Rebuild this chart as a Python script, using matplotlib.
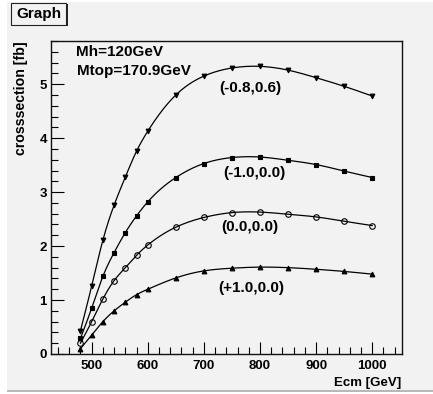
import numpy as np
import matplotlib
matplotlib.use("Agg")
import matplotlib.pyplot as plt
from matplotlib.patches import Rectangle
from matplotlib.ticker import MultipleLocator

plt.rcParams['font.family'] = ['Liberation Sans', 'DejaVu Sans']
plt.rcParams['font.weight'] = 'bold'

# Centre-of-mass energies [GeV]
ecm = [480, 500, 520, 540, 560, 580, 600, 650, 700, 750, 800, 850, 900, 950, 1000]

# Cross sections [fb] for each beam-polarisation setting
xs_m08_p06 = [0.43, 1.26, 2.11, 2.76, 3.28, 3.76, 4.13, 4.80, 5.15, 5.30, 5.33, 5.26, 5.12, 4.96, 4.78]
xs_m10_p00 = [0.29, 0.85, 1.44, 1.88, 2.25, 2.56, 2.82, 3.27, 3.53, 3.64, 3.65, 3.59, 3.51, 3.39, 3.27]
xs_00_00 = [0.20, 0.60, 1.02, 1.36, 1.60, 1.83, 2.02, 2.35, 2.53, 2.62, 2.63, 2.59, 2.54, 2.46, 2.38]
xs_p10_p00 = [0.10, 0.35, 0.60, 0.80, 0.96, 1.10, 1.20, 1.41, 1.54, 1.59, 1.61, 1.60, 1.57, 1.53, 1.48]

labels = ["(-0.8,0.6)", "(-1.0,0.0)", "(0.0,0.0)", "(+1.0,0.0)"]
label_pos = [(727, 4.92), (734, 3.35), (731, 2.36), (726, 1.23)]


def natural_spline(x, y, n=400):
    """Smooth curve through the points (natural cubic spline)."""
    x = np.asarray(x, float)
    y = np.asarray(y, float)
    m = len(x)
    h = np.diff(x)
    A = np.zeros((m, m))
    b = np.zeros(m)
    A[0, 0] = A[-1, -1] = 1.0
    for i in range(1, m - 1):
        A[i, i - 1] = h[i - 1]
        A[i, i] = 2 * (h[i - 1] + h[i])
        A[i, i + 1] = h[i]
        b[i] = 6 * ((y[i + 1] - y[i]) / h[i] - (y[i] - y[i - 1]) / h[i - 1])
    M = np.linalg.solve(A, b)
    xs = np.linspace(x[0], x[-1], n)
    idx = np.clip(np.searchsorted(x, xs) - 1, 0, m - 2)
    x0, x1 = x[idx], x[idx + 1]
    hh = x1 - x0
    t0, t1 = x1 - xs, xs - x0
    ys = (M[idx] * t0 ** 3 / (6 * hh) + M[idx + 1] * t1 ** 3 / (6 * hh)
          + (y[idx] / hh - M[idx] * hh / 6) * t0
          + (y[idx + 1] / hh - M[idx + 1] * hh / 6) * t1)
    return xs, ys


fig = plt.figure(figsize=(4.33, 3.94), dpi=100)
fig.patch.set_facecolor('white')

# canvas background
W, H = 433.0, 394.0
fig.patches.append(Rectangle((7 / W, 1 - 390 / H), 1 - 7 / W, 388 / H,
                             transform=fig.transFigure, facecolor='#f2f2f2',
                             edgecolor='none', zorder=-3))
fig.patches.append(Rectangle((7 / W, 1 - 392 / H), 1 - 7 / W, 2 / H,
                             transform=fig.transFigure, facecolor='#b8b8b8',
                             edgecolor='none', zorder=-3))

# title box with shadow
fig.patches.append(Rectangle((13 / W, 1 - 26 / H), 55 / W, 22 / H,
                             transform=fig.transFigure, facecolor='#222222',
                             edgecolor='none', zorder=-2))
fig.patches.append(Rectangle((11 / W, 1 - 24.5 / H), 55 / W, 21.5 / H,
                             transform=fig.transFigure, facecolor='#f2f2f2',
                             edgecolor='#222222', linewidth=0.8, zorder=-1))
fig.text(38.5 / W, 1 - 14 / H, "Graph", ha='center', va='center',
         fontsize=11, fontweight='bold', zorder=3)

ax = fig.add_axes([51 / W, 1 - 354 / H, (401.7 - 51) / W, (354 - 41) / H])
ax.set_zorder(5)
ax.set_facecolor('#f2f2f2')

series = [xs_m08_p06, xs_m10_p00, xs_00_00, xs_p10_p00]
markers = [dict(marker='v', mfc='black', ms=3.4),
           dict(marker='s', mfc='black', ms=3.2),
           dict(marker='o', mfc='none', ms=4.0),
           dict(marker='^', mfc='black', ms=3.4)]
for ys, mk in zip(series, markers):
    cx, cy = natural_spline(ecm, ys)
    ax.plot(cx, cy, color='black', lw=0.9)
    ax.plot(ecm, ys, ls='none', color='black', mec='black', mew=0.8, **mk)

for txt, (lx, ly) in zip(labels, label_pos):
    ax.text(lx, ly, txt, ha='left', va='center', fontsize=11, fontweight='bold')

ax.text(472, 5.60, "Mh=120GeV", ha='left', va='center', fontsize=11, fontweight='bold')
ax.text(474, 5.24, "Mtop=170.9GeV", ha='left', va='center', fontsize=11, fontweight='bold')

ax.set_xlim(427.5, 1052.5)
ax.set_ylim(0, 5.8)
ax.xaxis.set_major_locator(MultipleLocator(100))
ax.xaxis.set_minor_locator(MultipleLocator(20))
ax.yaxis.set_major_locator(MultipleLocator(1))
ax.yaxis.set_minor_locator(MultipleLocator(0.2))
ax.tick_params(which='both', direction='in', top=False, right=False,
               labelsize=9.5, width=0.8, color='black')
ax.tick_params(which='major', length=9)
ax.tick_params(which='minor', length=5)
ax.tick_params(axis='x', pad=4)
ax.tick_params(axis='y', pad=3)
for lab in ax.get_xticklabels() + ax.get_yticklabels():
    lab.set_fontweight('bold')
for sp in ax.spines.values():
    sp.set_linewidth(1.0)
    sp.set_color('#111111')

ax.set_ylabel("crosssection [fb]", fontsize=10.2, fontweight='bold')
ax.yaxis.set_label_coords(-0.066, 1.0)
ax.yaxis.label.set_horizontalalignment('right')
ax.set_xlabel("Ecm [GeV]", fontsize=9.5, fontweight='bold')
ax.xaxis.set_label_coords(1.0, -0.075)
ax.xaxis.label.set_horizontalalignment('right')

fig.savefig("out.png", dpi=100, facecolor=fig.get_facecolor())
